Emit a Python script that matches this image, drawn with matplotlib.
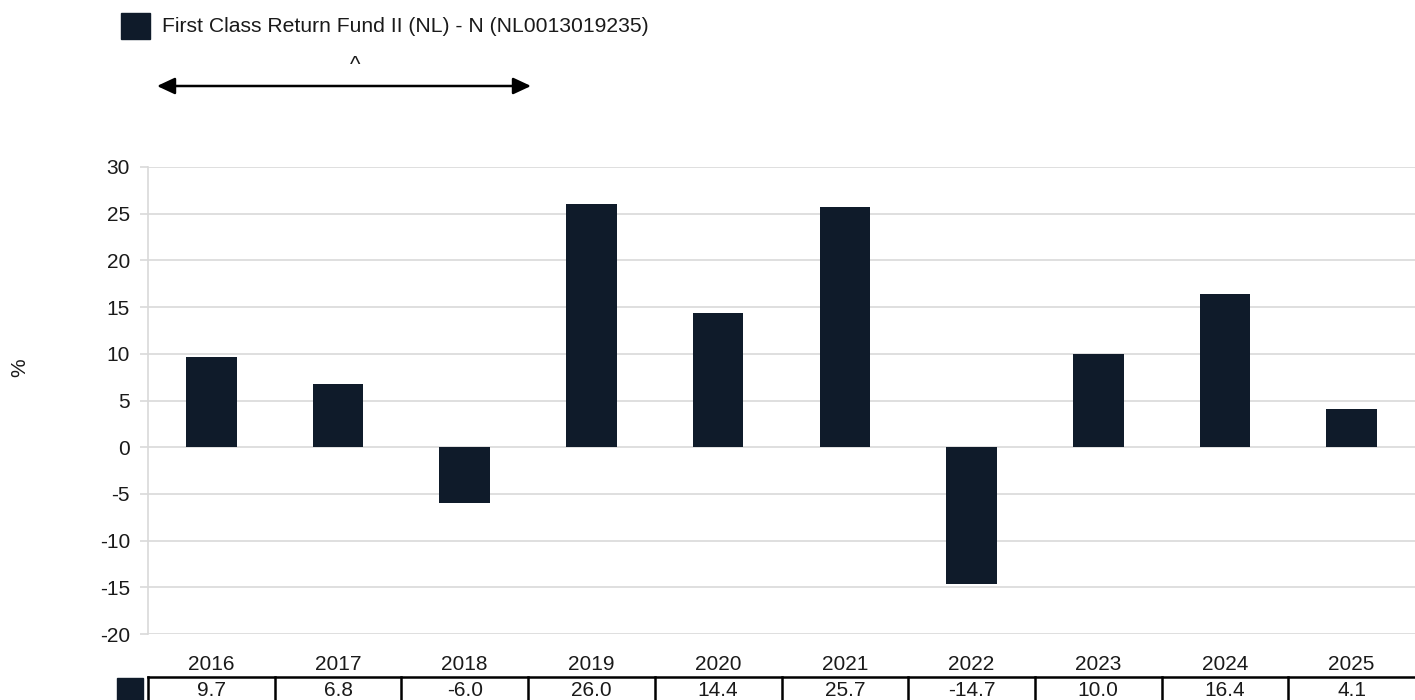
import matplotlib
matplotlib.use("Agg")
import matplotlib.pyplot as plt
from matplotlib.transforms import blended_transform_factory
from matplotlib.patches import Rectangle, FancyArrowPatch

plt.rcParams['font.family'] = ['Liberation Sans', 'DejaVu Sans']

years = ["2016", "2017", "2018", "2019", "2020", "2021", "2022", "2023", "2024", "2025"]
returns = [9.7, 6.8, -6.0, 26.0, 14.4, 25.7, -14.7, 10.0, 16.4, 4.1]
series_name = "First Class Return Fund II (NL) - N (NL0013019235)"
yticks = [-20, -15, -10, -5, 0, 5, 10, 15, 20, 25, 30]

BAR = "#0f1b2a"
GRID = "#d9d9d9"
TXT = "#1a1a1a"
FS = 15
W, H = 1415, 700

fig = plt.figure(figsize=(W / 100, H / 100), dpi=100)
ax = fig.add_axes([148 / W, (H - 634) / H, (W - 148) / W, (634 - 167) / H])

x = list(range(len(years)))
ax.bar(x, returns, width=0.4, color=BAR, zorder=3)
ax.set_xlim(-0.5, len(years) - 0.5)
ax.set_ylim(-20, 30)
ax.set_yticks(yticks)
ax.set_yticklabels([str(v) for v in yticks], fontsize=FS, color=TXT)
ax.yaxis.grid(True, color=GRID, linewidth=1.2, zorder=0)
ax.set_xticks([])
for s in ["top", "right", "bottom"]:
    ax.spines[s].set_visible(False)
ax.spines["left"].set_color(GRID)
ax.spines["left"].set_linewidth(1.2)
ax.tick_params(axis="y", length=6, color=GRID, width=1.2, pad=7)
fig.text(20 / W, (H - 368) / H, "%", rotation=90, fontsize=FS, ha="center", va="center", color=TXT)

# table under the axes
tr = blended_transform_factory(ax.transData, fig.transFigure)
for i, (yr, v) in enumerate(zip(years, returns)):
    ax.text(i, (H - 664) / H, yr, transform=tr, ha="center", va="center", fontsize=FS, color=TXT, clip_on=False)
    ax.text(i, (H - 690) / H, f"{v:.1f}", transform=tr, ha="center", va="center", fontsize=FS, color=TXT, clip_on=False)
ax.plot([-0.5, len(years) - 0.5], [(H - 677) / H] * 2, transform=tr, color="black", lw=1.8, clip_on=False)
for i in range(len(years)):
    ax.plot([i - 0.5, i - 0.5], [(H - 677) / H, 0], transform=tr, color="black", lw=1.8, clip_on=False)
fig.patches.append(Rectangle((117 / W, 0), 26 / W, (H - 678) / H, transform=fig.transFigure, color=BAR))

# legend
fig.patches.append(Rectangle((121 / W, (H - 39) / H), 29 / W, 26 / H, transform=fig.transFigure, color=BAR))
fig.text(162 / W, (H - 26) / H, series_name, fontsize=15.2, ha="left", va="center", color=TXT)

# arrow annotation
fig.patches.append(FancyArrowPatch((157 / W, (H - 86) / H), (531 / W, (H - 86) / H),
                   transform=fig.transFigure, arrowstyle="<|-|>,head_length=0.6,head_width=0.28",
                   mutation_scale=18, color="black", lw=1.8, shrinkA=0, shrinkB=0))
fig.text(355 / W, (H - 65) / H, "^", fontsize=16, ha="center", va="center", color=TXT)

fig.savefig("out.png", dpi=100)
